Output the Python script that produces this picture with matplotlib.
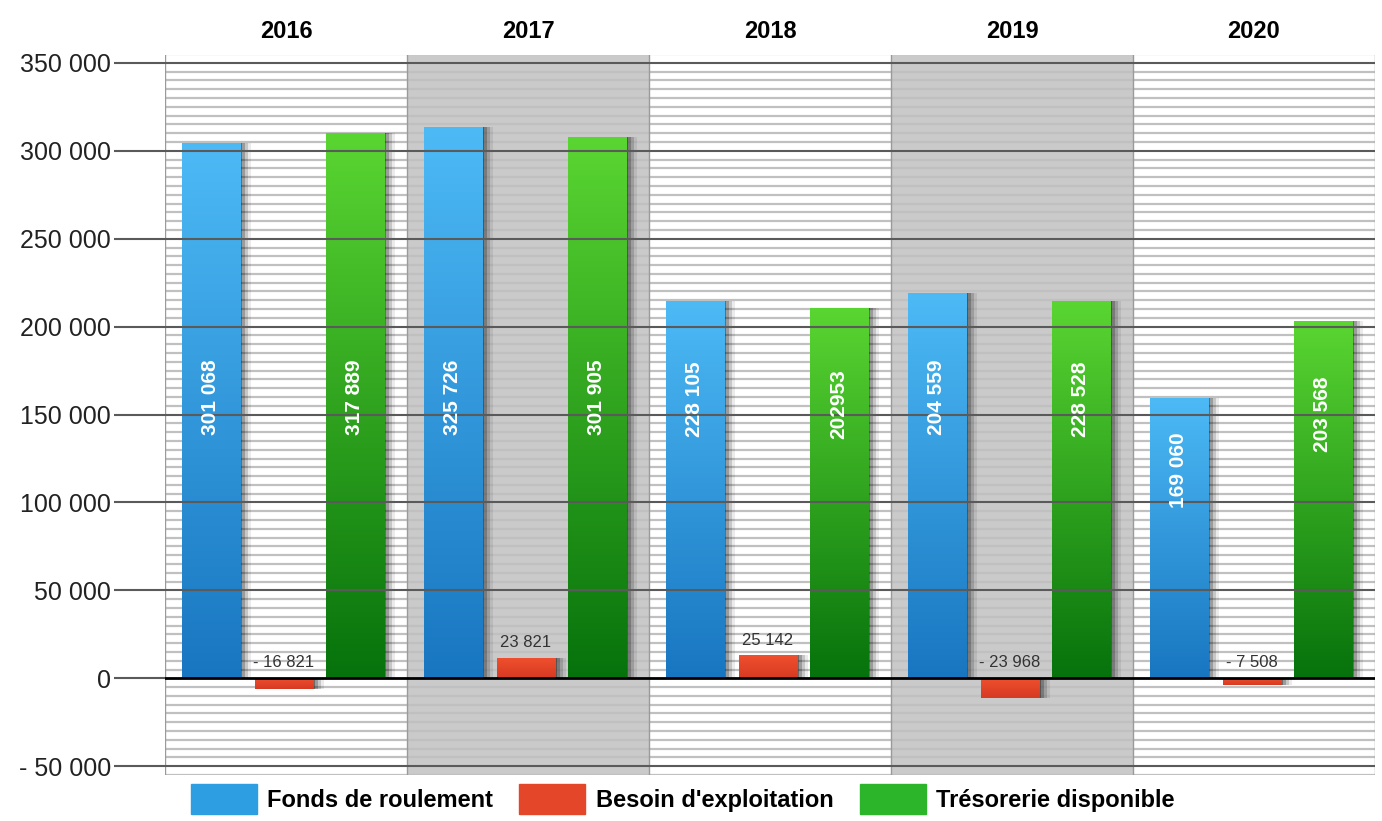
import matplotlib
matplotlib.use("Agg")
import matplotlib.pyplot as plt
import numpy as np
from matplotlib.colors import LinearSegmentedColormap
from matplotlib.patches import Patch

plt.rcParams['font.family'] = ['Liberation Sans', 'DejaVu Sans']

years = ['2016', '2017', '2018', '2019', '2020']
# bar heights as drawn in the picture
fonds = [304500, 313600, 214700, 219200, 159600]
besoin = [-6300, 11400, 13000, -11400, -4000]
tresorerie = [310200, 308000, 210700, 214700, 203300]
# printed value labels
fonds_labels = ['301 068', '325 726', '228 105', '204 559', '169 060']
besoin_labels = ['- 16 821', '23 821', '25 142', '- 23 968', '- 7 508']
tresorerie_labels = ['317 889', '301 905', '202953', '228 528', '203 568']

series_names = ['Fonds de roulement', "Besoin d'exploitation", 'Trésorerie disponible']

fig = plt.figure(figsize=(13.82, 8.21), dpi=100)
ax = fig.add_axes([165 / 1382, 46 / 821, 1210 / 1382, 720 / 821])

n = len(years)
x = np.arange(n)
w = 0.24
offsets = [0.19, 0.49, 0.785]

# shaded columns for 2017 and 2019
for i in range(n):
    if i % 2 == 1:
        ax.axvspan(i, i + 1, color='#cacaca', zorder=0, lw=0)
for i in range(n + 1):
    ax.axvline(i, color='#9a9a9a', lw=1, zorder=2)

# thin striped background lines
for yv in np.arange(-55000, 355001, 5000):
    if yv % 50000 != 0:
        ax.axhline(yv, color='#c0c0c0', lw=1.6, zorder=1)


def gradient_bars(xs, vals, top_col, bot_col):
    cmap = LinearSegmentedColormap.from_list('g', [bot_col, top_col])
    # soft dark shadow on the right side
    for off, a in [(0.01, 0.3), (0.022, 0.22), (0.034, 0.15), (0.046, 0.08)]:
        ax.bar(xs + off, vals, w, color='black', alpha=a, lw=0, zorder=3)
    bars = ax.bar(xs, vals, w, color=top_col, lw=0, zorder=4)
    grad = np.linspace(0, 1, 256).reshape(-1, 1)
    for b in bars:
        x0 = b.get_x()
        y0 = min(b.get_y(), b.get_y() + b.get_height())
        y1 = max(b.get_y(), b.get_y() + b.get_height())
        im = ax.imshow(grad, extent=[x0, x0 + b.get_width(), y0, y1], origin='lower',
                       aspect='auto', cmap=cmap, zorder=4.5)
        im.set_clip_path(b)
    return bars


b1 = gradient_bars(x + offsets[0], fonds, '#4dbaf6', '#1876c0')
b2 = gradient_bars(x + offsets[1], besoin, '#f0502e', '#d63a22')
b3 = gradient_bars(x + offsets[2], tresorerie, '#5ad632', '#06720c')

# major lines
for yv in range(-50000, 350001, 50000):
    ax.axhline(yv, color='black' if yv == 0 else '#5a5a5a', lw=2 if yv == 0 else 1.5, zorder=5)

# labels inside bars
for i in range(n):
    for vals, labs, off in [(fonds, fonds_labels, offsets[0]), (tresorerie, tresorerie_labels, offsets[2])]:
        ly = min(160000, vals[i] * 0.74)
        ax.text(i + off, ly, labs[i], rotation=90, ha='center', va='center', color='white',
                fontsize=15, fontweight='bold', zorder=6)
    yb = max(besoin[i], 0) + 4500
    ax.text(i + offsets[1], yb, besoin_labels[i], ha='center', va='bottom', color='#333333',
            fontsize=12, zorder=6)

ax.set_xlim(0, n)
ax.set_ylim(-55000, 354500)
ax.set_yticks(range(-50000, 350001, 50000))
ax.set_yticklabels([f"{v:,}".replace(',', ' ').replace('-', '- ') for v in range(-50000, 350001, 50000)])
ax.tick_params(axis='y', length=37, width=1.5, color='#5a5a5a', pad=2, labelsize=18, labelcolor='#222222')
ax.xaxis.tick_top()
ax.set_xticks(x + 0.5)
ax.set_xticklabels(years, fontsize=17, fontweight='bold')
ax.tick_params(axis='x', length=0, pad=9)
for s in ax.spines.values():
    s.set_visible(False)

handles = [Patch(color='#2e9ee2'), Patch(color='#e4462a'), Patch(color='#2cb52a')]
fig.legend(handles, series_names, ncol=3, loc='lower center', bbox_to_anchor=(0.494, -0.012),
           frameon=False, handlelength=2.8, handleheight=1.6, handletextpad=0.45,
           columnspacing=1.1, prop={'weight': 'bold', 'size': 17}, borderpad=0.2)

fig.savefig('out.png', dpi=100)
